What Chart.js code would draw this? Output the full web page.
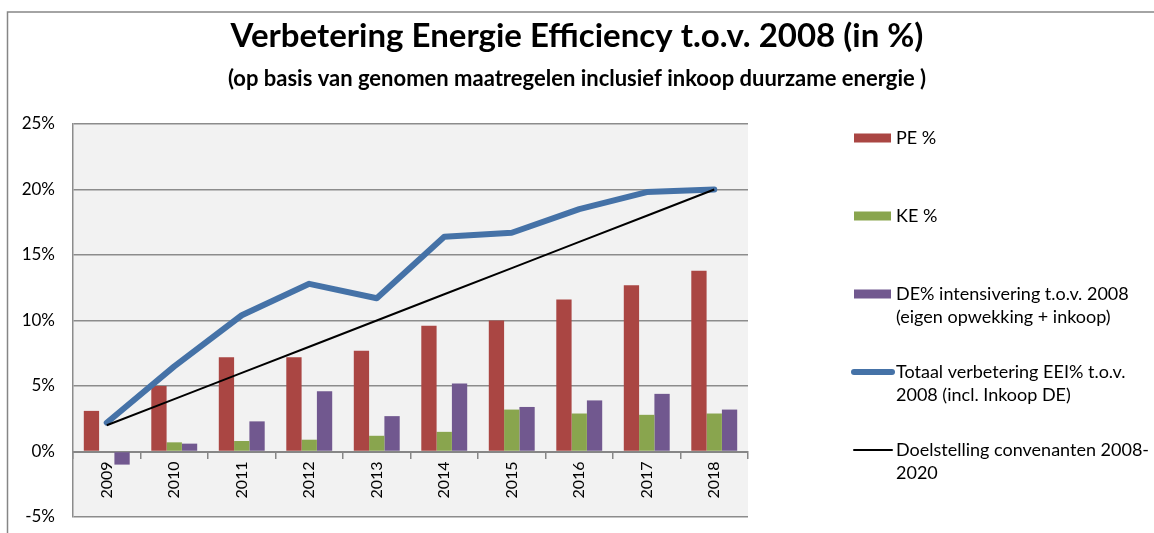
<!DOCTYPE html>
<html>
<head>
<meta charset="utf-8">
<script src="https://cdn.jsdelivr.net/npm/chart.js@4.4.0/dist/chart.umd.min.js"></script>
<style>
    body { margin: 0; background: #fff; }
    canvas { display: block; }
</style>
</head>
<body>
<canvas id="eeiChart" width="1154" height="533"></canvas>
<script>
const years = ['2009', '2010', '2011', '2012', '2013', '2014', '2015', '2016', '2017', '2018'];
const pePct = [3.1, 5.0, 7.2, 7.2, 7.7, 9.6, 10.0, 11.6, 12.7, 13.8];
const kePct = [0, 0.7, 0.8, 0.9, 1.2, 1.5, 3.2, 2.9, 2.8, 2.9];
const dePct = [-1.0, 0.6, 2.3, 4.6, 2.7, 5.2, 3.4, 3.9, 4.4, 3.2];
const totaalPct = [2.2, 6.5, 10.4, 12.8, 11.7, 16.4, 16.7, 18.5, 19.8, 20.0];
const doelPct = [2, 4, 6, 8, 10, 12, 14, 16, 18, 20];
const yTicks = [-5, 0, 5, 10, 15, 20, 25];

// legend text, split over lines like the original
const legendLines = [
    ['PE %'],
    ['KE %'],
    ['DE% intensivering t.o.v. 2008', '(eigen opwekking + inkoop)'],
    ['Totaal verbetering EEI% t.o.v.', '2008 (incl. Inkoop DE)'],
    ['Doelstelling convenanten 2008-', '2020']
];

const FONT = 'Lato, "Liberation Sans", sans-serif';

// grey plot background + outer chart border
const backgroundPlugin = {
    id: 'plotBackground',
    beforeDraw(chart) {
        const { ctx, chartArea } = chart;
        ctx.save();
        ctx.fillStyle = '#f2f2f2';
        ctx.fillRect(chartArea.left, chartArea.top, chartArea.right - chartArea.left, chartArea.bottom - chartArea.top);
        ctx.strokeStyle = '#868686';
        ctx.lineWidth = 1.5;
        ctx.beginPath();
        ctx.moveTo(7.5, chart.height);
        ctx.lineTo(7.5, 12);
        ctx.lineTo(chart.width, 12);
        ctx.stroke();
        ctx.restore();
    }
};

// legend on the right, drawn by hand because of the two-line labels
const sideLegendPlugin = {
    id: 'sideLegend',
    afterDraw(chart) {
        const ctx = chart.ctx;
        const x0 = 854;
        const textX = 896;
        let y = 138;
        ctx.save();
        ctx.font = '18px ' + FONT;
        ctx.textBaseline = 'middle';
        chart.data.datasets.forEach((ds, i) => {
            if (ds.type === 'line') {
                ctx.strokeStyle = ds.borderColor;
                ctx.lineWidth = ds.borderWidth;
                ctx.lineCap = 'round';
                ctx.beginPath();
                ctx.moveTo(x0, y);
                ctx.lineTo(x0 + 38, y);
                ctx.stroke();
            } else {
                ctx.fillStyle = ds.backgroundColor;
                ctx.fillRect(x0, y - 4.5, 37, 9);
            }
            ctx.fillStyle = '#000';
            legendLines[i].forEach((line, j) => {
                ctx.fillText(line, textX, y + j * 23);
            });
            y += 78;
        });
        ctx.restore();
    }
};

new Chart(document.getElementById('eeiChart'), {
    data: {
        labels: years,
        datasets: [
            { type: 'bar', label: 'PE %', data: pePct, backgroundColor: '#aa4643', order: 2 },
            { type: 'bar', label: 'KE %', data: kePct, backgroundColor: '#89a54e', order: 2 },
            { type: 'bar', label: 'DE% intensivering t.o.v. 2008 (eigen opwekking + inkoop)', data: dePct, backgroundColor: '#71588f', order: 2 },
            {
                type: 'line', label: 'Totaal verbetering EEI% t.o.v. 2008 (incl. Inkoop DE)', data: totaalPct,
                borderColor: '#4572a7', borderWidth: 6, pointRadius: 0, tension: 0,
                borderCapStyle: 'round', borderJoinStyle: 'round', order: 1
            },
            {
                type: 'line', label: 'Doelstelling convenanten 2008-2020', data: doelPct,
                borderColor: '#000000', borderWidth: 2, pointRadius: 0, tension: 0, order: 0
            }
        ]
    },
    options: {
        responsive: false,
        animation: false,
        devicePixelRatio: 1,
        layout: { padding: { left: 0, right: 0, top: 0, bottom: 16 } },
        datasets: {
            bar: { categoryPercentage: 0.68, barPercentage: 1 }
        },
        plugins: {
            legend: { display: false },
            tooltip: { enabled: false },
            title: {
                display: true,
                text: 'Verbetering Energie Efficiency t.o.v. 2008 (in %)',
                color: '#000',
                font: { family: FONT, size: 33, weight: 'bold' },
                padding: { top: 17, bottom: 4 }
            },
            subtitle: {
                display: true,
                text: '(op basis van genomen maatregelen inclusief inkoop duurzame energie )',
                color: '#000',
                font: { family: FONT, size: 22, weight: 'bold' },
                padding: { top: 5, bottom: 32 }
            }
        },
        scales: {
            x: {
                position: { y: 0 },
                grid: {
                    offset: true,
                    drawOnChartArea: false,
                    drawTicks: true,
                    tickLength: 6,
                    color: '#868686',
                    lineWidth: 1.5
                },
                border: { display: true, color: '#868686', width: 2 },
                ticks: {
                    minRotation: 90,
                    maxRotation: 90,
                    padding: 4,
                    color: '#000',
                    font: { family: FONT, size: 16 }
                }
            },
            y: {
                min: -5,
                max: 25,
                afterBuildTicks: (scale) => { scale.ticks = yTicks.map(v => ({ value: v })); },
                afterFit: (scale) => {
                    scale.width = 73;
                    scale.paddingTop = 0;
                    scale.paddingBottom = 0;
                },
                grid: { color: '#8c8c8c', lineWidth: 1.5, drawTicks: false },
                border: { display: true, color: '#8c8c8c', width: 1.5 },
                ticks: {
                    padding: 18,
                    color: '#000',
                    font: { family: FONT, size: 17 },
                    callback: (v) => v + '%'
                }
            },
            legendSpace: {
                position: 'right',
                display: true,
                grid: { display: false, drawTicks: false },
                border: { display: false },
                ticks: { display: false },
                afterFit: (scale) => { scale.width = 1154 - 748; }
            }
        }
    },
    plugins: [backgroundPlugin, sideLegendPlugin]
});
</script>
</body>
</html>
